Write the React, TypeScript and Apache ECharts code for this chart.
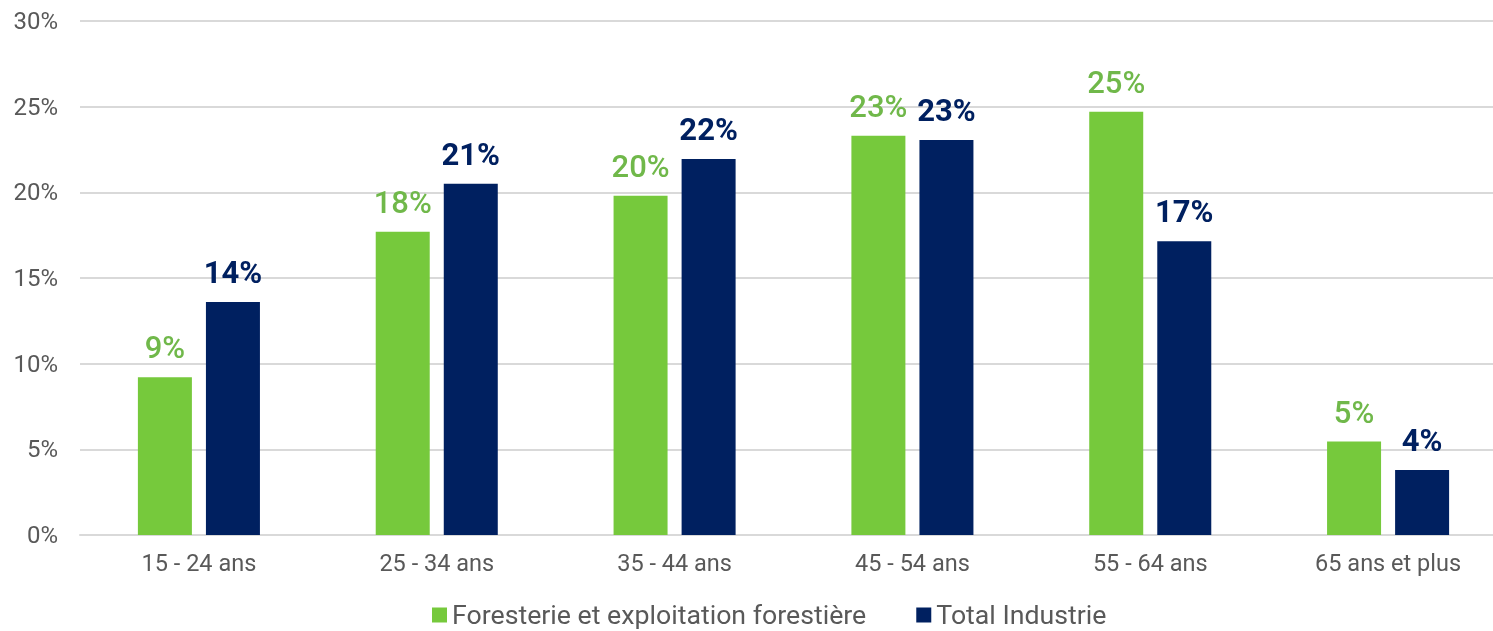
import React, { useEffect, useRef } from "react";
import * as echarts from "echarts";

const categories = ["15 - 24 ans", "25 - 34 ans", "35 - 44 ans", "45 - 54 ans", "55 - 64 ans", "65 ans et plus"];
const foresterie = [9.2, 17.7, 19.8, 23.3, 24.7, 5.45];
const industrie = [13.6, 20.5, 21.95, 23.05, 17.15, 3.8];
const seriesNames = ["Foresterie et exploitation forestière", "Total Industrie"];

export default function App() {
  const ref = useRef<HTMLDivElement>(null);
  useEffect(() => {
    const chart = echarts.init(ref.current!, undefined, { renderer: "svg" });
    const font = "Roboto";
    chart.setOption({
      animation: false,
      textStyle: { fontFamily: font },
      grid: { left: 80, right: 3, top: 21, bottom: 96, containLabel: false },
      legend: {
        top: 601,
        left: 432,
        padding: 0,
        itemWidth: 15,
        itemHeight: 15,
        itemGap: 50,
        icon: "rect",
        textStyle: { fontSize: 26.7, lineHeight: 28, color: "#595959", fontFamily: font },
        data: seriesNames,
      },
      xAxis: {
        type: "category",
        data: categories,
        axisTick: { show: false },
        axisLine: { lineStyle: { color: "#d9d9d9", width: 2 } },
        axisLabel: { fontSize: 23.5, color: "#595959", margin: 16, fontFamily: font },
      },
      yAxis: {
        type: "value",
        min: 0,
        max: 30,
        interval: 5,
        axisLabel: { formatter: "{value}%", fontSize: 24, color: "#595959", margin: 22, fontFamily: font },
        splitLine: { lineStyle: { color: "#d9d9d9", width: 2 } },
        axisLine: { show: false },
        axisTick: { show: false },
      },
      series: [
        {
          name: seriesNames[0],
          type: "bar",
          data: foresterie,
          barWidth: 54,
          barGap: "26%",
          itemStyle: { color: "#76c93c" },
          label: {
            show: true,
            position: "top",
            distance: 14,
            formatter: (p: any) => Math.round(p.value) + "%",
            fontSize: 31,
            fontWeight: 500,
            color: "#70b84a",
            fontFamily: font,
          },
        },
        {
          name: seriesNames[1],
          type: "bar",
          data: industrie,
          barWidth: 54,
          itemStyle: { color: "#002060" },
          label: {
            show: true,
            position: "top",
            distance: 14,
            formatter: (p: any) => Math.round(p.value) + "%",
            fontSize: 31,
            fontWeight: "bold",
            color: "#002060",
            fontFamily: font,
          },
        },
      ],
    });
    return () => chart.dispose();
  }, []);
  return (
    <div style={{ position: "fixed", left: 0, top: 0, width: 1493, height: 631, overflow: "hidden" }}>
      <div ref={ref} style={{ width: 1510, height: 631 }} />
    </div>
  );
}
